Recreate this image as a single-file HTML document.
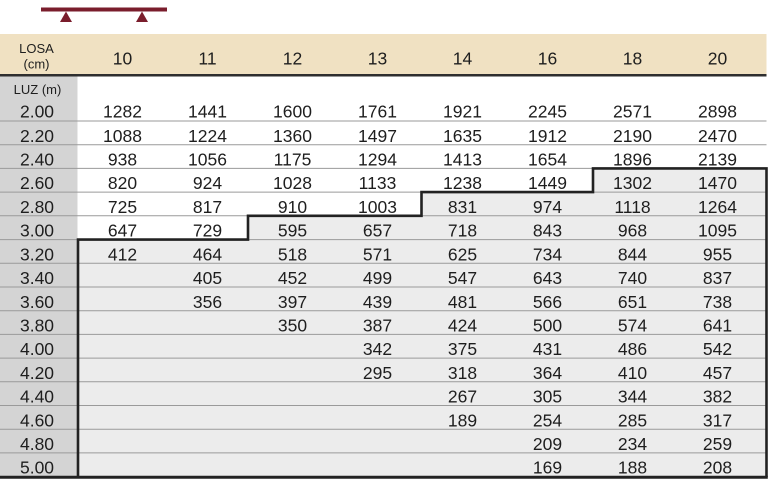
<!DOCTYPE html>
<html><head><meta charset="utf-8"><style>
html,body{margin:0;padding:0;background:#fff;}
svg{display:block;}
text{font-family:"Liberation Sans",Arial,sans-serif;fill:#1e1e1e;}
</style></head><body>
<svg width="768" height="480" viewBox="0 0 768 480" xmlns="http://www.w3.org/2000/svg">
<!-- beam icon -->
<rect x="41" y="7.5" width="126" height="4" fill="#7a1d2c"/>
<polygon points="60,22 66,11.5 72,22" fill="#7a1d2c"/>
<polygon points="136,22 142,11.5 148,22" fill="#7a1d2c"/>
<!-- header -->
<rect x="0" y="34" width="766.5" height="41" fill="#f0e1c2"/>
<rect x="0" y="74" width="766.5" height="2.5" fill="#2e2e2e"/>
<!-- left gray column -->
<rect x="0" y="76.5" width="77.5" height="400" fill="#d4d4d4"/>
<!-- shaded region -->
<polygon points="78,239.6 248,239.6 248,215.8 421.5,215.8 421.5,192.1 593,192.1 593,168.4 766.5,168.4 766.5,477 78,477" fill="#ececec"/>
<!-- row lines -->
<g stroke="#9a9a9a" stroke-width="1">
<line x1="0" y1="121" x2="766.5" y2="121"/>
<line x1="0" y1="144.7" x2="766.5" y2="144.7"/>
<line x1="0" y1="168.4" x2="766.5" y2="168.4"/>
<line x1="0" y1="192.1" x2="766.5" y2="192.1"/>
<line x1="0" y1="215.8" x2="766.5" y2="215.8"/>
<line x1="0" y1="239.6" x2="766.5" y2="239.6"/>
<line x1="0" y1="263.3" x2="766.5" y2="263.3"/>
<line x1="0" y1="287" x2="766.5" y2="287"/>
<line x1="0" y1="310.7" x2="766.5" y2="310.7"/>
<line x1="0" y1="334.4" x2="766.5" y2="334.4"/>
<line x1="0" y1="358.1" x2="766.5" y2="358.1"/>
<line x1="0" y1="381.8" x2="766.5" y2="381.8"/>
<line x1="0" y1="405.5" x2="766.5" y2="405.5"/>
<line x1="0" y1="429.2" x2="766.5" y2="429.2"/>
<line x1="0" y1="452.9" x2="766.5" y2="452.9"/>
</g>
<!-- stair border -->
<polyline points="78,477 78,239.6 248,239.6 248,215.8 421.5,215.8 421.5,192.1 593,192.1 593,168.4 766.5,168.4 766.5,477" fill="none" stroke="#222" stroke-width="2.6"/>
<line x1="0" y1="477.3" x2="767.8" y2="477.3" stroke="#222" stroke-width="3"/>
<!-- header text -->
<text x="36.5" y="53" font-size="13" text-anchor="middle">LOSA</text>
<text x="36.5" y="68.5" font-size="13" text-anchor="middle">(cm)</text>
<g font-size="17.5" text-anchor="middle">
<text x="122.5" y="64.3">10</text>
<text x="207.5" y="64.3">11</text>
<text x="292.5" y="64.3">12</text>
<text x="377.5" y="64.3">13</text>
<text x="462.5" y="64.3">14</text>
<text x="547.5" y="64.3">16</text>
<text x="632.5" y="64.3">18</text>
<text x="717.5" y="64.3">20</text>
</g>
<text x="37.5" y="94" font-size="13" text-anchor="middle">LUZ (m)</text>
<!-- left labels -->
<g font-size="17.5" text-anchor="middle">
<text x="37" y="117.3">2.00</text>
<text x="37" y="141.8">2.20</text>
<text x="37" y="165.5">2.40</text>
<text x="37" y="189.2">2.60</text>
<text x="37" y="212.9">2.80</text>
<text x="37" y="236.6">3.00</text>
<text x="37" y="260.4">3.20</text>
<text x="37" y="284.1">3.40</text>
<text x="37" y="307.8">3.60</text>
<text x="37" y="331.5">3.80</text>
<text x="37" y="355.2">4.00</text>
<text x="37" y="378.9">4.20</text>
<text x="37" y="402.6">4.40</text>
<text x="37" y="426.3">4.60</text>
<text x="37" y="450">4.80</text>
<text x="37" y="473.7">5.00</text>
</g>
<!-- data -->
<g font-size="17.5" text-anchor="middle">
<!-- 2.00 -->
<text x="122.5" y="117.3">1282</text><text x="207.5" y="117.3">1441</text><text x="292.5" y="117.3">1600</text><text x="377.5" y="117.3">1761</text><text x="462.5" y="117.3">1921</text><text x="547.5" y="117.3">2245</text><text x="632.5" y="117.3">2571</text><text x="717.5" y="117.3">2898</text>
<!-- 2.20 -->
<text x="122.5" y="141.8">1088</text><text x="207.5" y="141.8">1224</text><text x="292.5" y="141.8">1360</text><text x="377.5" y="141.8">1497</text><text x="462.5" y="141.8">1635</text><text x="547.5" y="141.8">1912</text><text x="632.5" y="141.8">2190</text><text x="717.5" y="141.8">2470</text>
<!-- 2.40 -->
<text x="122.5" y="165.5">938</text><text x="207.5" y="165.5">1056</text><text x="292.5" y="165.5">1175</text><text x="377.5" y="165.5">1294</text><text x="462.5" y="165.5">1413</text><text x="547.5" y="165.5">1654</text><text x="632.5" y="165.5">1896</text><text x="717.5" y="165.5">2139</text>
<!-- 2.60 -->
<text x="122.5" y="189.2">820</text><text x="207.5" y="189.2">924</text><text x="292.5" y="189.2">1028</text><text x="377.5" y="189.2">1133</text><text x="462.5" y="189.2">1238</text><text x="547.5" y="189.2">1449</text><text x="632.5" y="189.2">1302</text><text x="717.5" y="189.2">1470</text>
<!-- 2.80 -->
<text x="122.5" y="212.9">725</text><text x="207.5" y="212.9">817</text><text x="292.5" y="212.9">910</text><text x="377.5" y="212.9">1003</text><text x="462.5" y="212.9">831</text><text x="547.5" y="212.9">974</text><text x="632.5" y="212.9">1118</text><text x="717.5" y="212.9">1264</text>
<!-- 3.00 -->
<text x="122.5" y="236.6">647</text><text x="207.5" y="236.6">729</text><text x="292.5" y="236.6">595</text><text x="377.5" y="236.6">657</text><text x="462.5" y="236.6">718</text><text x="547.5" y="236.6">843</text><text x="632.5" y="236.6">968</text><text x="717.5" y="236.6">1095</text>
<!-- 3.20 -->
<text x="122.5" y="260.4">412</text><text x="207.5" y="260.4">464</text><text x="292.5" y="260.4">518</text><text x="377.5" y="260.4">571</text><text x="462.5" y="260.4">625</text><text x="547.5" y="260.4">734</text><text x="632.5" y="260.4">844</text><text x="717.5" y="260.4">955</text>
<!-- 3.40 -->
<text x="207.5" y="284.1">405</text><text x="292.5" y="284.1">452</text><text x="377.5" y="284.1">499</text><text x="462.5" y="284.1">547</text><text x="547.5" y="284.1">643</text><text x="632.5" y="284.1">740</text><text x="717.5" y="284.1">837</text>
<!-- 3.60 -->
<text x="207.5" y="307.8">356</text><text x="292.5" y="307.8">397</text><text x="377.5" y="307.8">439</text><text x="462.5" y="307.8">481</text><text x="547.5" y="307.8">566</text><text x="632.5" y="307.8">651</text><text x="717.5" y="307.8">738</text>
<!-- 3.80 -->
<text x="292.5" y="331.5">350</text><text x="377.5" y="331.5">387</text><text x="462.5" y="331.5">424</text><text x="547.5" y="331.5">500</text><text x="632.5" y="331.5">574</text><text x="717.5" y="331.5">641</text>
<!-- 4.00 -->
<text x="377.5" y="355.2">342</text><text x="462.5" y="355.2">375</text><text x="547.5" y="355.2">431</text><text x="632.5" y="355.2">486</text><text x="717.5" y="355.2">542</text>
<!-- 4.20 -->
<text x="377.5" y="378.9">295</text><text x="462.5" y="378.9">318</text><text x="547.5" y="378.9">364</text><text x="632.5" y="378.9">410</text><text x="717.5" y="378.9">457</text>
<!-- 4.40 -->
<text x="462.5" y="402.6">267</text><text x="547.5" y="402.6">305</text><text x="632.5" y="402.6">344</text><text x="717.5" y="402.6">382</text>
<!-- 4.60 -->
<text x="462.5" y="426.3">189</text><text x="547.5" y="426.3">254</text><text x="632.5" y="426.3">285</text><text x="717.5" y="426.3">317</text>
<!-- 4.80 -->
<text x="547.5" y="450">209</text><text x="632.5" y="450">234</text><text x="717.5" y="450">259</text>
<!-- 5.00 -->
<text x="547.5" y="473.7">169</text><text x="632.5" y="473.7">188</text><text x="717.5" y="473.7">208</text>
</g>
</svg>
</body></html>
